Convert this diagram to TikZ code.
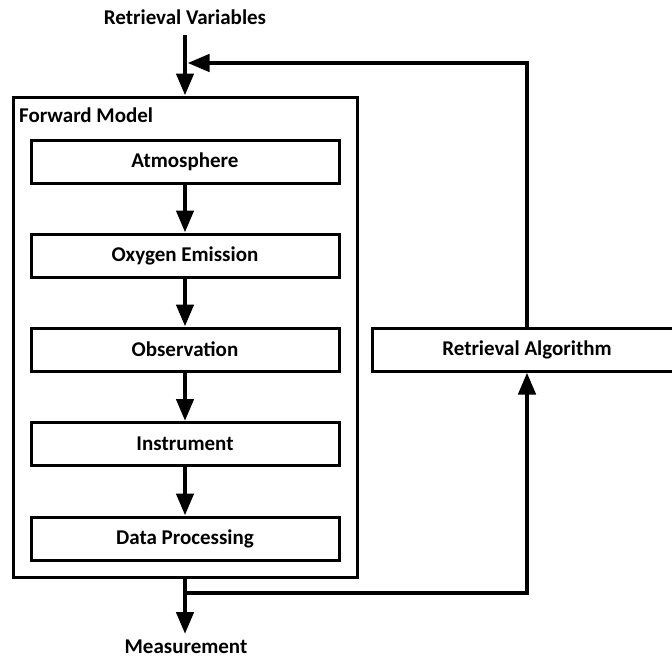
\documentclass[tikz,border=0pt]{standalone}
\usepackage{fontspec}
\setmainfont{Carlito}
\usetikzlibrary{arrows.meta}
\begin{document}
\begin{tikzpicture}[x=1pt,y=-1pt,
  txt/.style={font=\fontsize{21}{25}\selectfont\bfseries},
  blk/.style={draw, line width=3pt, minimum width=308pt, minimum height=43pt, inner sep=0pt, txt},
  arr/.style={line width=4.5pt, -{Triangle[length=22pt,width=17pt]}}]
\clip (0,0) rectangle (672,659);
\fill[white] (0,0) rectangle (672,659);
% outer forward model box
\node[draw, line width=3pt, minimum width=344pt, minimum height=480pt, inner sep=0pt] (fm) at (185,337) {};
\node[txt, anchor=west, inner sep=0pt] (fmlabel) at (19,115) {Forward Model};
% inner blocks
\node[blk] (atm) at (185,161.5) {Atmosphere};
\node[blk] (oxy) at (185,255.5) {Oxygen Emission};
\node[blk] (obs) at (185,349.5) {Observation};
\node[blk] (ins) at (185,444) {Instrument};
\node[blk] (dp)  at (185,538.5) {Data Processing};
% retrieval algorithm
\node[blk, minimum width=310pt] (ra) at (527,349.5) {Retrieval Algorithm};
% labels
\node[txt, inner sep=0pt, anchor=base] (rv) at (185,24) {Retrieval Variables};
\node[txt, inner sep=0pt, anchor=base] (meas) at (186,653) {Measurement};
% coordinates
\coordinate (rvtop) at (185,35);
\coordinate (fbtip) at (187.5,63);
\coordinate (split) at (185,593);
\coordinate (meastip) at (185,634);
% arrows
\draw[arr] (rvtop) -- (fm.north);
\draw[arr] (ra.north) -- (ra.north |- fbtip) -- (fbtip);
\draw[arr] (atm) -- (oxy);
\draw[arr] (oxy) -- (obs);
\draw[arr] (obs) -- (ins);
\draw[arr] (ins) -- (dp);
\draw[arr] (fm.south) -- (meastip);
\draw[arr] (split) -- (split -| ra.south) -- (ra.south);
\end{tikzpicture}
\end{document}
